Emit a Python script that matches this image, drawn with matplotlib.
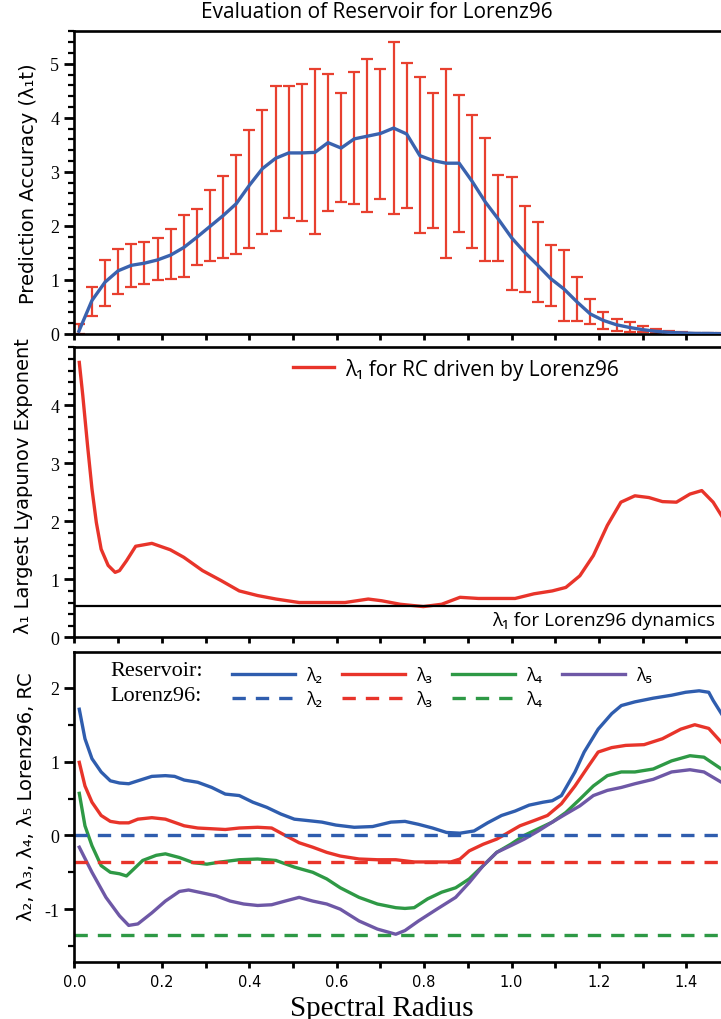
import matplotlib
matplotlib.use('Agg')
import matplotlib.pyplot as plt
from matplotlib.lines import Line2D
from matplotlib.ticker import MultipleLocator, AutoMinorLocator
import numpy as np

plt.rcParams['axes.unicode_minus'] = False

# ---------------------------------------------------------------- data
# panel 1: prediction accuracy vs spectral radius
rho = [0.01, 0.04, 0.07, 0.10, 0.13, 0.16, 0.19, 0.22, 0.25, 0.28,
       0.31, 0.34, 0.37, 0.40, 0.43, 0.46, 0.49, 0.52, 0.55, 0.58,
       0.61, 0.64, 0.67, 0.70, 0.73, 0.76, 0.79, 0.82, 0.85, 0.88,
       0.91, 0.94, 0.97, 1.00, 1.03, 1.06, 1.09, 1.12, 1.15, 1.18,
       1.21, 1.24, 1.27, 1.30, 1.33, 1.36, 1.39, 1.42, 1.45, 1.48]
acc_mean = [0.05, 0.62, 0.96, 1.17, 1.27, 1.31, 1.37, 1.46, 1.60, 1.79,
            1.99, 2.19, 2.41, 2.75, 3.06, 3.25, 3.35, 3.35, 3.36, 3.54,
            3.44, 3.61, 3.66, 3.71, 3.81, 3.70, 3.30, 3.21, 3.16, 3.16,
            2.82, 2.44, 2.12, 1.78, 1.51, 1.27, 1.02, 0.83, 0.59, 0.37,
            0.25, 0.17, 0.12, 0.08, 0.05, 0.03, 0.02, 0.01, 0.01, 0.005]
acc_hi = [0.19, 0.86, 1.36, 1.57, 1.67, 1.70, 1.77, 1.94, 2.20, 2.31,
          2.66, 2.93, 3.31, 3.78, 4.15, 4.59, 4.59, 4.62, 4.90, 4.81,
          4.46, 4.85, 5.08, 4.91, 5.40, 5.02, 4.75, 4.46, 4.90, 4.43,
          4.06, 3.62, 2.94, 2.90, 2.36, 2.08, 1.64, 1.56, 1.06, 0.64,
          0.40, 0.27, 0.22, 0.14, 0.09, 0.05, 0.03, 0.02, 0.01, 0.01]
acc_lo = [0.0, 0.34, 0.52, 0.74, 0.86, 0.93, 0.99, 1.02, 1.06, 1.28,
          1.35, 1.41, 1.48, 1.60, 1.85, 1.90, 2.15, 2.09, 1.85, 2.28,
          2.45, 2.41, 2.25, 2.50, 2.22, 2.33, 1.86, 1.96, 1.40, 1.88,
          1.59, 1.35, 1.35, 0.81, 0.78, 0.60, 0.52, 0.24, 0.24, 0.19,
          0.09, 0.06, 0.04, 0.03, 0.01, 0.0, 0.0, 0.0, 0.0, 0.0]

# panel 2: largest lyapunov exponent of the RC
lyap_x = [0.011, 0.019, 0.03, 0.04, 0.05, 0.061, 0.077, 0.093, 0.103, 0.119,
          0.14, 0.177, 0.219, 0.25, 0.293, 0.335, 0.377, 0.419, 0.461, 0.514,
          0.566, 0.619, 0.672, 0.703, 0.745, 0.798, 0.84, 0.882, 0.924, 0.966,
          1.008, 1.051, 1.093, 1.124, 1.156, 1.187, 1.219, 1.25, 1.282, 1.314,
          1.345, 1.377, 1.408, 1.435, 1.461, 1.48]
lyap_y = [4.74, 4.17, 3.30, 2.56, 1.98, 1.52, 1.24, 1.12, 1.15, 1.32,
          1.57, 1.62, 1.51, 1.38, 1.15, 0.98, 0.80, 0.72, 0.66, 0.60,
          0.60, 0.60, 0.66, 0.63, 0.57, 0.53, 0.57, 0.69, 0.67, 0.67,
          0.67, 0.75, 0.80, 0.86, 1.06, 1.41, 1.93, 2.33, 2.44, 2.41,
          2.34, 2.33, 2.47, 2.53, 2.33, 2.10]
lyap_l96 = 0.54

# panel 3: lambda2..lambda5 of the RC
l2_x = [0.011, 0.024, 0.040, 0.061, 0.082, 0.103, 0.124, 0.145, 0.177, 0.208,
        0.229, 0.251, 0.282, 0.314, 0.345, 0.377, 0.408, 0.440, 0.472, 0.503,
        0.535, 0.566, 0.598, 0.640, 0.682, 0.724, 0.756, 0.787, 0.819, 0.851,
        0.882, 0.914, 0.945, 0.977, 1.008, 1.040, 1.072, 1.093, 1.114, 1.145,
        1.166, 1.198, 1.229, 1.251, 1.282, 1.324, 1.366, 1.398, 1.429, 1.451,
        1.461, 1.480]
l2_y = [1.71, 1.31, 1.04, 0.86, 0.74, 0.71, 0.70, 0.74, 0.80, 0.81,
        0.80, 0.75, 0.72, 0.65, 0.56, 0.54, 0.45, 0.38, 0.29, 0.22,
        0.20, 0.18, 0.14, 0.11, 0.12, 0.18, 0.19, 0.15, 0.10, 0.04,
        0.03, 0.06, 0.17, 0.27, 0.33, 0.41, 0.45, 0.47, 0.54, 0.86,
        1.13, 1.44, 1.65, 1.76, 1.81, 1.86, 1.90, 1.94, 1.96, 1.94,
        1.83, 1.65]
l3_x = [0.011, 0.024, 0.040, 0.061, 0.082, 0.103, 0.124, 0.145, 0.177, 0.208,
        0.251, 0.282, 0.314, 0.345, 0.377, 0.419, 0.451, 0.482, 0.514, 0.545,
        0.577, 0.608, 0.651, 0.693, 0.735, 0.777, 0.819, 0.861, 0.882, 0.903,
        0.935, 0.966, 0.987, 1.019, 1.051, 1.082, 1.114, 1.145, 1.177, 1.198,
        1.229, 1.261, 1.303, 1.345, 1.387, 1.419, 1.451, 1.480]
l3_y = [0.99, 0.67, 0.45, 0.27, 0.19, 0.17, 0.17, 0.22, 0.24, 0.22,
        0.13, 0.10, 0.09, 0.08, 0.10, 0.11, 0.10, 0.00, -0.10, -0.16,
        -0.23, -0.28, -0.32, -0.33, -0.33, -0.36, -0.36, -0.36, -0.32, -0.21,
        -0.12, -0.05, 0.02, 0.13, 0.20, 0.27, 0.43, 0.67, 0.95, 1.13,
        1.19, 1.22, 1.23, 1.31, 1.44, 1.50, 1.45, 1.26]
l4_x = [0.011, 0.024, 0.040, 0.061, 0.082, 0.103, 0.119, 0.135, 0.156, 0.187,
        0.208, 0.240, 0.272, 0.303, 0.335, 0.377, 0.419, 0.461, 0.503, 0.545,
        0.577, 0.608, 0.651, 0.693, 0.735, 0.756, 0.777, 0.808, 0.840, 0.872,
        0.903, 0.935, 0.966, 0.998, 1.029, 1.061, 1.093, 1.124, 1.156, 1.187,
        1.219, 1.251, 1.282, 1.324, 1.366, 1.408, 1.440, 1.480]
l4_y = [0.57, 0.13, -0.14, -0.41, -0.50, -0.52, -0.55, -0.46, -0.34, -0.27,
        -0.25, -0.30, -0.37, -0.39, -0.36, -0.33, -0.32, -0.34, -0.43, -0.50,
        -0.59, -0.71, -0.84, -0.93, -0.98, -0.99, -0.98, -0.86, -0.77, -0.71,
        -0.59, -0.41, -0.23, -0.12, 0.00, 0.09, 0.18, 0.31, 0.49, 0.67,
        0.81, 0.86, 0.86, 0.90, 1.01, 1.08, 1.06, 0.90]
l5_x = [0.011, 0.040, 0.072, 0.103, 0.124, 0.145, 0.177, 0.208, 0.240, 0.261,
        0.293, 0.324, 0.356, 0.387, 0.419, 0.451, 0.482, 0.514, 0.545, 0.577,
        0.608, 0.651, 0.693, 0.735, 0.756, 0.787, 0.829, 0.872, 0.903, 0.935,
        0.966, 0.998, 1.029, 1.061, 1.093, 1.124, 1.156, 1.187, 1.219, 1.251,
        1.282, 1.324, 1.366, 1.408, 1.440, 1.480]
l5_y = [-0.16, -0.50, -0.84, -1.09, -1.22, -1.20, -1.05, -0.89, -0.76, -0.74,
        -0.78, -0.82, -0.89, -0.93, -0.95, -0.94, -0.89, -0.84, -0.89, -0.93,
        -1.00, -1.16, -1.27, -1.34, -1.29, -1.16, -1.00, -0.84, -0.64, -0.41,
        -0.23, -0.14, -0.05, 0.06, 0.18, 0.29, 0.40, 0.54, 0.61, 0.65,
        0.70, 0.76, 0.86, 0.89, 0.86, 0.72]
# lorenz96 reference exponents
l96_vals = [0.0, -0.357, -1.345]

names = ['λ₂', 'λ₃', 'λ₄', 'λ₅']
colors = ['#2F5DAE', '#E8342A', '#2E9945', '#6E58A6']

# ---------------------------------------------------------------- style
SANS = ['Open Sans', 'DejaVu Sans']
SERIF = ['Liberation Serif', 'DejaVu Serif']
LW = 2.4
XMAX = 1.479

fig = plt.figure(figsize=(7.21, 10.2), dpi=100)
ax1 = fig.add_axes([0.1033, 0.6716, 0.8967, 0.2967])
ax2 = fig.add_axes([0.1033, 0.3742, 0.8967, 0.2843])
ax3 = fig.add_axes([0.1033, 0.0556, 0.8967, 0.3045])


def style(ax, ymin, ymax, yticks, nminor, show_x):
    ax.set_xlim(0, XMAX)
    ax.set_ylim(ymin, ymax)
    ax.xaxis.set_major_locator(MultipleLocator(0.2))
    ax.xaxis.set_minor_locator(MultipleLocator(0.1))
    ax.set_yticks(yticks)
    ax.yaxis.set_minor_locator(AutoMinorLocator(nminor))
    for s in ['left', 'top', 'bottom']:
        ax.spines[s].set_linewidth(1.9)
    ax.spines['right'].set_visible(False)
    ax.tick_params(axis='y', which='major', direction='out', length=7, width=2, pad=4)
    ax.tick_params(axis='y', which='minor', direction='out', length=4.5, width=1.6)
    ax.tick_params(axis='x', which='both', direction='out', length=4.5, width=2, pad=4)
    for t in ax.get_yticklabels():
        t.set_family(SERIF)
        t.set_fontsize(13)
    if show_x:
        for t in ax.get_xticklabels():
            t.set_family('DejaVu Sans')
            t.set_fontsize(10.5)
    else:
        ax.set_xticklabels([])


# ---------------------------------------------------------------- panel 1
err = [np.array(acc_mean) - np.array(acc_lo), np.array(acc_hi) - np.array(acc_mean)]
ax1.errorbar(rho, acc_mean, yerr=err, fmt='none', ecolor='#E8402F',
             elinewidth=1.6, capsize=4, capthick=1.6, zorder=2)
ax1.plot(rho, acc_mean, color='#3A62AE', lw=LW, zorder=3)
style(ax1, 0, 5.6, [0, 1, 2, 3, 4, 5], 5, False)
ax1.set_ylabel('Prediction Accuracy (λ₁t)', family='DejaVu Sans', fontsize=14)
ax1.yaxis.set_label_coords(-0.056, 0.50)
fig.text(0.523, 0.988, 'Evaluation of Reservoir for Lorenz96', family=SANS,
         fontsize=15, ha='center', va='center')

# ---------------------------------------------------------------- panel 2
ax2.plot(lyap_x, lyap_y, color='#E8342A', lw=LW, label='λ₁ for RC driven by Lorenz96')
ax2.axhline(lyap_l96, color='black', lw=1.6)
ax2.text(1.465, 0.30, 'λ₁ for Lorenz96 dynamics', family=SANS, fontsize=13.7,
         ha='right', va='center')
style(ax2, 0, 5.0, [0, 1, 2, 3, 4], 5, False)
ax2.set_ylabel('λ₁ Largest Lyapunov Exponent', family='DejaVu Sans', fontsize=14)
ax2.yaxis.set_label_coords(-0.064, 0.525)
ax2.legend(loc='center left', bbox_to_anchor=(0.475, 4.63), bbox_transform=ax2.transData,
           frameon=False, handlelength=2.0, handletextpad=0.5, borderpad=0,
           prop={'family': SANS, 'size': 15})

# ---------------------------------------------------------------- panel 3
res_lines = []
for xs, ys, c in zip([l2_x, l3_x, l4_x, l5_x], [l2_y, l3_y, l4_y, l5_y], colors):
    ln, = ax3.plot(xs, ys, color=c, lw=LW)
    res_lines.append(ln)
l96_lines = []
for v, c in zip(l96_vals, colors[:3]):
    ln = ax3.axhline(v, color=c, lw=LW, linestyle=(0, (4, 3)))
    l96_lines.append(ln)
style(ax3, -1.72, 2.49, [-1, 0, 1, 2], 2, True)
ax3.set_ylabel('λ₂, λ₃, λ₄, λ₅ Lorenz96, RC', family='DejaVu Sans', fontsize=14)
ax3.yaxis.set_label_coords(-0.060, 0.535)
ax3.set_xlabel('Spectral Radius', family=SERIF, fontsize=21, labelpad=1)
ax3.xaxis.set_label_coords(0.476, -0.105)

blank = Line2D([], [], color='none')
handles = [res_lines[0], l96_lines[0], res_lines[1], l96_lines[1],
           res_lines[2], l96_lines[2], res_lines[3], blank]
labels = [names[0], names[0], names[1], names[1], names[2], names[2], names[3], '']
ax3.legend(handles, labels, ncol=4, loc='upper left', bbox_to_anchor=(0.34, 2.42),
           bbox_transform=ax3.transData, frameon=False, handlelength=3.5,
           handletextpad=0.6, columnspacing=1.1, labelspacing=0.35, borderpad=0,
           prop={'family': SANS, 'size': 13})
ax3.text(0.081, 2.24, 'Reservoir:', family=SERIF, fontsize=16, va='center')
ax3.text(0.081, 1.89, 'Lorenz96:', family=SERIF, fontsize=16, va='center')

plt.savefig('out.png', dpi=100)
